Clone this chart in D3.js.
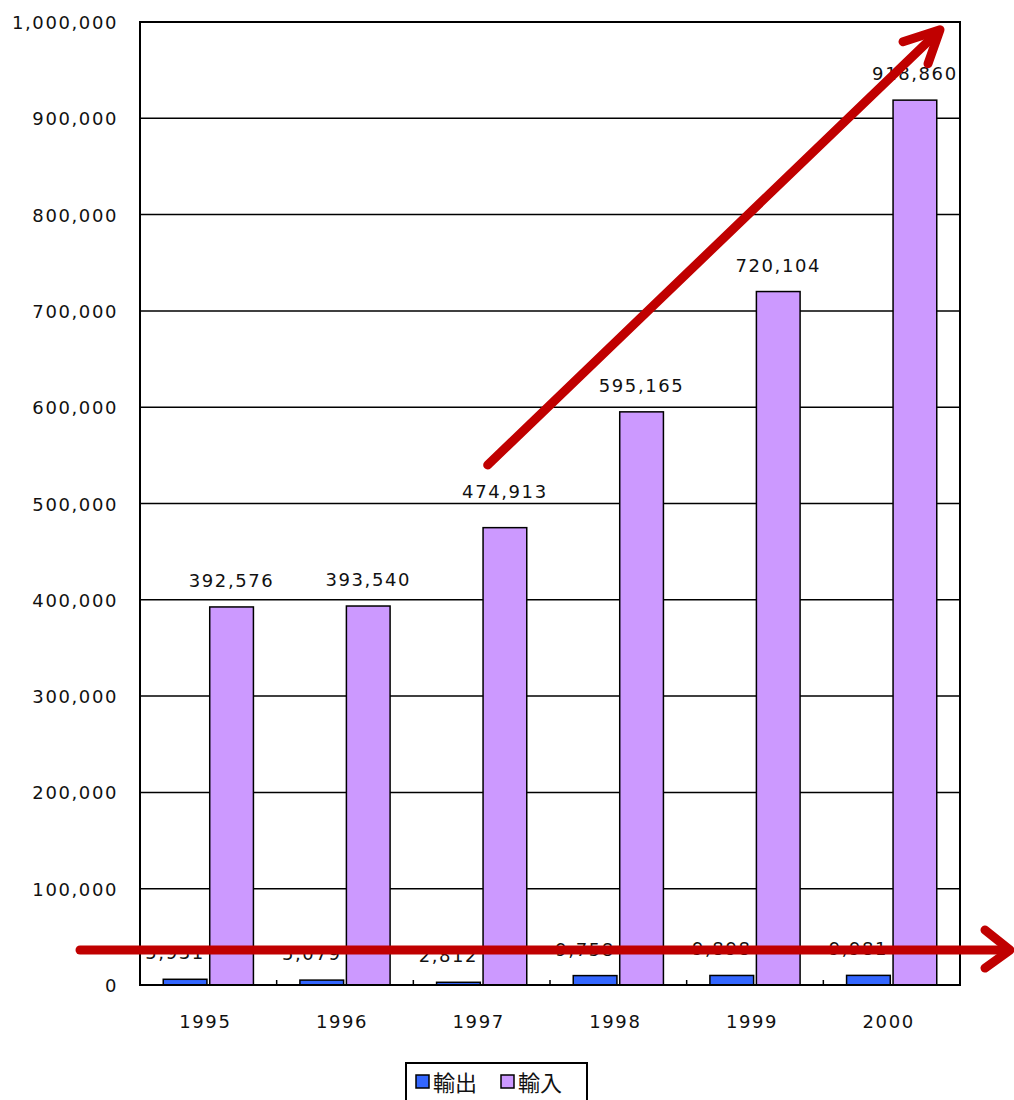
<!DOCTYPE html>
<html>
<head>
<meta charset="utf-8">
<script src="https://d3js.org/d3.v7.min.js"></script>
<style>
  html, body { margin: 0; padding: 0; background: #fff; }
  svg { display: block; }
  text { font-family: "DejaVu Sans", "Noto Sans CJK JP", sans-serif; fill: #111; }
</style>
</head>
<body>
<svg id="chart" width="1014" height="1100"></svg>
<script>
// data
const years = ['1995', '1996', '1997', '1998', '1999', '2000'];
const exportsVal = [5931, 5079, 2812, 9758, 9898, 9981];
const importsVal = [392576, 393540, 474913, 595165, 720104, 918860];
const seriesNames = ['輸出', '輸入'];
const seriesColors = ['#3366ff', '#cc99ff'];
const yTicks = [0, 100000, 200000, 300000, 400000, 500000, 600000, 700000, 800000, 900000, 1000000];

const svg = d3.select('#chart');
const plot = { left: 140, right: 960, top: 22, bottom: 985 };

const x = d3.scaleBand().domain(years).range([plot.left, plot.right]);
const xs = d3.scaleBand().domain(seriesNames).range([0, x.bandwidth()]).paddingOuter(0.5).paddingInner(0.06);
const y = d3.scaleLinear().domain([0, 1000000]).range([plot.bottom, plot.top]);
const fmt = d3.format(',');

// gridlines
svg.append('g')
  .selectAll('line')
  .data(yTicks.slice(1, -1))
  .join('line')
  .attr('x1', plot.left).attr('x2', plot.right)
  .attr('y1', d => y(d)).attr('y2', d => y(d))
  .attr('stroke', '#000').attr('stroke-width', 1.5);

// y axis labels
svg.append('g')
  .selectAll('text')
  .data(yTicks)
  .join('text')
  .attr('x', 118)
  .attr('y', d => y(d) + 7)
  .attr('text-anchor', 'end')
  .attr('font-size', 18)
  .attr('letter-spacing', 1.6)
  .text(d => fmt(d));

// bars
const rows = years.map((yr, i) => ({ year: yr, values: [exportsVal[i], importsVal[i]] }));
const groups = svg.append('g')
  .selectAll('g')
  .data(rows)
  .join('g')
  .attr('transform', d => `translate(${x(d.year)},0)`);

groups.selectAll('rect')
  .data(d => d.values.map((v, j) => ({ name: seriesNames[j], v, j })))
  .join('rect')
  .attr('x', d => xs(d.name))
  .attr('width', xs.bandwidth())
  .attr('y', d => y(d.v))
  .attr('height', d => y(0) - y(d.v))
  .attr('fill', d => seriesColors[d.j])
  .attr('stroke', '#000')
  .attr('stroke-width', 1.5);

// value labels (1997 import label sits a little higher in the original)
groups.selectAll('text')
  .data(d => d.values.map((v, j) => ({ name: seriesNames[j], v, j, year: d.year })))
  .join('text')
  .attr('x', d => xs(d.name) + xs.bandwidth() / 2 - (d.j === 0 ? 10 : 0))
  .attr('y', d => y(d.v) - 20 - (d.j === 1 && d.year === '1997' ? 10 : 0))
  .attr('text-anchor', 'middle')
  .attr('font-size', 18)
  .attr('letter-spacing', 1.6)
  .text(d => fmt(d.v));

// category tick marks between categories (inside)
svg.append('g')
  .selectAll('line')
  .data(years.slice(1))
  .join('line')
  .attr('x1', d => x(d)).attr('x2', d => x(d))
  .attr('y1', plot.bottom - 5).attr('y2', plot.bottom)
  .attr('stroke', '#000').attr('stroke-width', 1.5);

// plot frame
svg.append('rect')
  .attr('x', plot.left).attr('y', plot.top)
  .attr('width', plot.right - plot.left).attr('height', plot.bottom - plot.top)
  .attr('fill', 'none').attr('stroke', '#000').attr('stroke-width', 2);

// x labels
svg.append('g')
  .selectAll('text')
  .data(years)
  .join('text')
  .attr('x', d => x(d) + x.bandwidth() / 2 - 3)
  .attr('y', 1028)
  .attr('text-anchor', 'middle')
  .attr('font-size', 18)
  .attr('letter-spacing', 1.6)
  .text(d => d);

// legend
const lg = svg.append('g').attr('transform', 'translate(406,1063)');
lg.append('rect').attr('width', 181).attr('height', 40)
  .attr('fill', '#fff').attr('stroke', '#000').attr('stroke-width', 2);
seriesNames.forEach((name, i) => {
  const ox = 10 + i * 85;
  lg.append('rect').attr('x', ox).attr('y', 12).attr('width', 13).attr('height', 13)
    .attr('fill', seriesColors[i]).attr('stroke', '#000').attr('stroke-width', 1.5);
  lg.append('text').attr('x', ox + 17).attr('y', 28).attr('font-size', 22).text(name);
});

// red annotation arrows
const red = '#c00000';
const ann = svg.append('g').attr('stroke', red).attr('stroke-width', 9)
  .attr('stroke-linecap', 'round').attr('stroke-linejoin', 'round').attr('fill', 'none');

// horizontal arrow along the export level
const hy = y(36300);
ann.append('line').attr('x1', 80).attr('x2', 1008).attr('y1', hy).attr('y2', hy);
ann.append('path').attr('d', `M985,${hy - 20} L1010,${hy} L985,${hy + 18}`);

// diagonal arrow following imports
const x0 = x('1997') + x.bandwidth() / 2 + 6, y0 = y(540000);
const x1 = plot.right - 20, y1 = y(992000);
ann.append('line').attr('x1', x0).attr('y1', y0).attr('x2', x1 - 6).attr('y2', y1 + 6);
ann.append('path').attr('d', `M${x1 - 37},${y1 + 12} L${x1},${y1} L${x1 - 12},${y1 + 34}`);
</script>
</body>
</html>
